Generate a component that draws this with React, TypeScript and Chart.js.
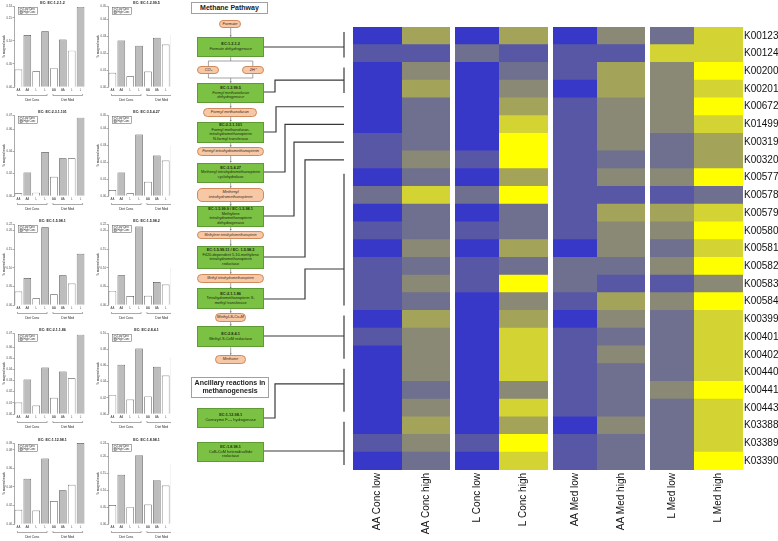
import React, { useEffect, useRef } from 'react';
import { Chart, registerables } from 'chart.js';
Chart.register(...registerables);

// ---------------- Heatmap data ----------------
const KO_ROWS = ['K00123','K00124','K00200','K00201','K00672','K01499','K00319','K00320','K00577','K00578','K00579','K00580','K00581','K00582','K00583','K00584','K00399','K00401','K00402','K00440','K00441','K00443','K03388','K03389','K03390'];
const HEAT_COLUMNS = ['AA Conc low','AA Conc high','L Conc low','L Conc high','AA Med low','AA Med high','L Med low','L Med high'];
// colour level per KO row (0 = lowest / blue ... 6 = highest / yellow)
const AA_CONC_LOW  = [0,1,0,0,0,0,1,1,0,2,0,1,0,1,1,1,0,1,0,0,0,0,0,1,0];
const AA_CONC_HIGH = [4,1,3,4,2,2,2,3,2,5,2,2,3,2,3,2,4,3,3,3,2,3,4,3,2];
const L_CONC_LOW   = [0,2,0,0,0,0,0,1,0,2,0,1,0,1,1,0,0,0,0,0,0,0,0,1,0];
const L_CONC_HIGH  = [4,1,2,3,4,5,6,6,4,6,2,2,4,2,6,3,4,5,5,5,3,5,4,6,5];
const AA_MED_LOW   = [0,1,1,0,1,1,1,1,1,1,1,1,0,2,2,1,0,1,1,1,1,1,0,1,1];
const AA_MED_HIGH  = [3,1,4,4,3,3,3,2,3,1,4,3,3,2,1,4,3,2,3,2,2,2,3,2,2];
const L_MED_LOW    = [2,5,3,3,3,3,2,2,3,1,4,3,2,3,1,3,2,2,2,2,3,2,2,2,2];
const L_MED_HIGH   = [5,5,6,5,6,5,4,4,6,2,5,6,5,6,3,6,5,5,5,5,6,5,5,5,6];
const HEAT_LEVELS = [AA_CONC_LOW, AA_CONC_HIGH, L_CONC_LOW, L_CONC_HIGH, AA_MED_LOW, AA_MED_HIGH, L_MED_LOW, L_MED_HIGH];
// enzyme -> KO row groups
const ENZYME_ROW_GROUPS = [[0,1],[2,3],[4,4],[5,5],[6,6],[7,7],[8,15],[16,18],[19,21],[22,24]];

// ---------------- Bar chart data ----------------
const BAR_LABELS = ['AA','AA','L','L','AA','AA','L','L'];
const DIET_GROUPS = ['Diet Conc','Diet Med'];
const LEGEND_LABELS = ['Low Conc','High Conc'];
const EC_TITLES = ['EC: EC:1.2.1.2','EC: EC:1.2.99.5','EC: EC:2.3.1.101','EC: EC:3.5.4.27','EC: EC:1.5.98.1','EC: EC:1.5.98.2','EC: EC:2.1.1.86','EC: EC:2.8.4.1','EC: EC:1.12.98.1','EC: EC:1.8.98.1'];
const EC_1_2_1_2   = [0.038,0.113,0.034,0.121,0.041,0.103,0.079,0.174];
const EC_1_2_99_5  = [0.0084,0.0276,0.0064,0.0244,0.0092,0.0292,0.0252,0.031];
const EC_2_3_1_101 = [0.0024,0.0212,0.003,0.0394,0.0173,0.0339,0.0339,0.0703];
const EC_3_5_4_27  = [0.0036,0.014,0.0016,0.0364,0.0084,0.024,0.021,0.03];
const EC_1_5_98_1  = [0.0364,0.0727,0.0182,0.209,0.029,0.08,0.058,0.138];
const EC_1_5_98_2  = [0.038,0.08,0.024,0.211,0.025,0.062,0.055,0.1];
const EC_2_1_1_86  = [0.0103,0.0309,0.0076,0.0418,0.0145,0.0382,0.0321,0.0712];
const EC_2_8_4_1   = [0.0233,0.0608,0.0179,0.0808,0.0217,0.0583,0.0475,0.07];
const EC_1_12_98_1 = [0.0153,0.0487,0.0145,0.0705,0.0247,0.0364,0.0422,0.0873];
const EC_1_8_98_1  = [0.056,0.146,0.05,0.204,0.058,0.13,0.114,0.18];
const EC_VALUES = [EC_1_2_1_2, EC_1_2_99_5, EC_2_3_1_101, EC_3_5_4_27, EC_1_5_98_1, EC_1_5_98_2, EC_2_1_1_86, EC_2_8_4_1, EC_1_12_98_1, EC_1_8_98_1];
const EC_Y_MAX  = [0.176,0.048,0.0727,0.048,0.218,0.218,0.0727,0.1,0.0873,0.24];
const EC_Y_STEP = [0.05,0.01,0.02,0.01,0.05,0.05,0.01,0.02,0.02,0.05];

// ---------------- styles / layout ----------------
const FONT = '"Liberation Sans", Arial, sans-serif';
const PALETTE = ['#3838c8','#5757a6','#6f6f8f','#898976','#a3a35a','#d3d333','#ffff00'];
const COL_EDGES = [[0,49],[49,97],[102,146],[146,195],[200,244],[244,292],[297,341],[341,390]];
const HEAT_LEFT = 264;
const LINK_FROM_Y = [47,92,132,172,216,257,299,336,418,451];
const LINK_BEND_X = [0,275,276,285,294,305,305,0,275,0];
const LINK_AT = [0.56,0.5,0.5,0.5,0.5,0.5,0.707,0.5,0.38,0.62];
const BRACKET_X = 344;
const ROW_TOPS = [0,109,218,327,437];

const connectorPlugin = {
  id: 'connectors',
  afterDraw(chart: any) {
    const { ctx, chartArea } = chart;
    const ys = chart.scales.y;
    const rh = (chartArea.bottom - chartArea.top) / KO_ROWS.length;
    const bx = BRACKET_X - HEAT_LEFT;
    ctx.save();
    ctx.strokeStyle = '#3a3a3a';
    ctx.lineWidth = 1.2;
    ENZYME_ROW_GROUPS.forEach(([r0, r1], i) => {
      const top = ys.getPixelForValue(r0) - rh / 2;
      const bot = ys.getPixelForValue(r1) + rh / 2;
      const fromY = LINK_FROM_Y[i];
      const arr = LINK_BEND_X[i] ? top + (bot - top) * LINK_AT[i] : fromY;
      ctx.beginPath();
      ctx.moveTo(0, fromY);
      if (LINK_BEND_X[i]) {
        const x = LINK_BEND_X[i] - HEAT_LEFT;
        ctx.lineTo(x, fromY);
        ctx.lineTo(x, arr);
      }
      ctx.lineTo(bx, arr);
      if (r1 > r0) {
        ctx.moveTo(bx, top + 5);
        ctx.lineTo(bx, bot - 5);
      }
      ctx.stroke();
    });
    ctx.restore();
  },
};

function Heatmap() {
  const ref = useRef<HTMLCanvasElement>(null);
  useEffect(() => {
    const datasets = HEAT_LEVELS.map((levels, c) => ({
      label: HEAT_COLUMNS[c],
      data: KO_ROWS.map(() => COL_EDGES[c]),
      backgroundColor: levels.map((l) => PALETTE[l]),
      borderWidth: 0,
      barPercentage: 1.05,
      categoryPercentage: 1,
      grouped: false,
    }));
    const chart = new Chart(ref.current!, {
      type: 'bar',
      data: { labels: KO_ROWS, datasets } as any,
      options: {
        indexAxis: 'y',
        animation: false,
        responsive: false,
        maintainAspectRatio: false,
        layout: { padding: { left: 89, top: 27, right: 0, bottom: 0 } },
        plugins: { legend: { display: false }, tooltip: { enabled: false }, title: { display: false } },
        scales: {
          y: {
            type: 'category',
            position: 'right',
            grid: { display: false, drawTicks: false },
            border: { display: false },
            ticks: { font: { size: 10, family: FONT }, color: '#111', padding: 1, autoSkip: false },
            afterFit: (s: any) => { s.width = 35; },
          },
          x: {
            type: 'linear',
            min: 0,
            max: 390,
            grid: { display: false, drawTicks: false },
            border: { display: false },
            ticks: {
              font: { size: 10, family: FONT },
              color: '#111',
              padding: 3,
              autoSkip: false,
              minRotation: 90,
              maxRotation: 90,
              callback: (_v: any, i: number) => HEAT_COLUMNS[i],
            },
            afterBuildTicks: (s: any) => { s.ticks = COL_EDGES.map(([a, b]) => ({ value: (a + b) / 2 })); },
            afterFit: (s: any) => { s.height = 71; },
          },
        },
      } as any,
      plugins: [connectorPlugin],
    });
    return () => chart.destroy();
  }, []);
  return <canvas ref={ref} width={514} height={541} style={{ position: 'absolute', left: HEAT_LEFT, top: 0, width: 514, height: 541, display: 'block' }} />;
}

const smallDeco = {
  id: 'smallDeco',
  afterDraw(chart: any, _a: any, opts: any) {
    const { ctx, chartArea: a } = chart;
    const xs = chart.scales.x;
    ctx.save();
    ctx.fillStyle = '#222';
    ctx.textAlign = 'center';
    ctx.textBaseline = 'middle';
    ctx.font = `bold 3.6px ${FONT}`;
    ctx.fillText(opts.title, (a.left + a.right) / 2 + 3, 3);
    // legend box
    ctx.strokeStyle = '#555';
    ctx.lineWidth = 0.5;
    const lx = a.left + 4.5, ly = a.top + 1.5;
    ctx.strokeRect(lx, ly, 19, 7);
    ctx.font = `2.6px ${FONT}`;
    ctx.textAlign = 'left';
    LEGEND_LABELS.forEach((t, i) => {
      const y = ly + 2.2 + i * 2.8;
      ctx.fillStyle = i === 0 ? '#fff' : '#bdbdbd';
      ctx.fillRect(lx + 1.5, y - 0.9, 2.4, 1.8);
      ctx.strokeRect(lx + 1.5, y - 0.9, 2.4, 1.8);
      ctx.fillStyle = '#222';
      ctx.fillText(t, lx + 5, y);
    });
    // diet brackets
    ctx.textAlign = 'center';
    ctx.font = `3.2px ${FONT}`;
    const by = a.bottom + 8.5;
    DIET_GROUPS.forEach((t, g) => {
      const x0 = xs.getPixelForValue(g * 4) - 1;
      const x1 = xs.getPixelForValue(g * 4 + 3) + 2;
      ctx.beginPath();
      ctx.moveTo(x0, by - 1.5);
      ctx.lineTo(x0, by);
      ctx.lineTo(x1, by);
      ctx.lineTo(x1, by - 1.5);
      ctx.stroke();
      ctx.fillText(t, (x0 + x1) / 2, by + 4.5);
    });
    ctx.restore();
  },
};

function BarPanel({ idx }: { idx: number }) {
  const ref = useRef<HTMLCanvasElement>(null);
  const col = idx % 2;
  const row = Math.floor(idx / 2);
  useEffect(() => {
    const chart = new Chart(ref.current!, {
      type: 'bar',
      data: {
        labels: BAR_LABELS,
        datasets: [{
          data: EC_VALUES[idx],
          backgroundColor: BAR_LABELS.map((_, i) => (i % 2 === 0 ? '#ffffff' : '#bdbdbd')),
          borderColor: '#4a4a4a',
          borderWidth: 0.7,
          barPercentage: 0.86,
          categoryPercentage: 1,
        }],
      },
      options: {
        animation: false,
        responsive: false,
        maintainAspectRatio: false,
        layout: { padding: { left: 2, right: 1, top: 6, bottom: 17 } },
        plugins: { legend: { display: false }, tooltip: { enabled: false }, title: { display: false }, smallDeco: { title: EC_TITLES[idx] } } as any,
        scales: {
          x: {
            grid: { display: false, drawTicks: false },
            border: { display: false },
            ticks: { font: { size: 2.8, family: FONT }, color: '#444', padding: 2, maxRotation: 0, autoSkip: false },
            afterFit: (s: any) => { s.height = 5; },
          },
          y: {
            min: 0,
            max: EC_Y_MAX[idx],
            grid: { display: true, drawOnChartArea: false, tickLength: 1.5, color: '#555', lineWidth: 0.5 },
            border: { display: true, color: '#555', width: 0.5 },
            ticks: { stepSize: EC_Y_STEP[idx], font: { size: 2.8, family: FONT }, color: '#444', padding: 0.5, callback: (v: any) => Number(v).toFixed(2) },
            title: { display: true, text: '% mapped reads', font: { size: 3, family: FONT }, color: '#333', padding: 0 },
            afterFit: (s: any) => { s.width = 12; },
          },
        },
      } as any,
      plugins: [smallDeco],
    });
    return () => chart.destroy();
  }, []);
  return <canvas ref={ref} width={86} height={109} style={{ position: 'absolute', left: col * 94, top: ROW_TOPS[row], width: 86, height: 109, display: 'block' }} />;
}

type PNode = { kind: 'green' | 'pill' | 'head'; x0?: number; x1?: number; y0: number; y1: number; lines: string[]; italic?: boolean; fs?: number };
const PATH_LEFT = 171;
const NODES: PNode[] = [
  { kind: 'head', x0: 190.7, x1: 268.3, y0: 1.7, y1: 14, lines: ['Methane Pathway'] },
  { kind: 'pill', x0: 219, x1: 241, y0: 20, y1: 28, lines: ['Formate'] },
  { kind: 'green', y0: 37, y1: 57, lines: ['EC:1.2.1.2', 'Formate dehydrogenase'], italic: true },
  { kind: 'pill', x0: 197.3, x1: 219.5, y0: 66, y1: 74, lines: ['CO₂'] },
  { kind: 'pill', x0: 241.7, x1: 264, y0: 66, y1: 74, lines: ['2H⁺'] },
  { kind: 'green', y0: 83, y1: 103, lines: ['EC:1.2.99.5', 'Formyl methanofuran', 'dehydrogenase'], italic: true },
  { kind: 'pill', x0: 202.7, x1: 257, y0: 108, y1: 117, lines: ['Formyl methanofuran'] },
  { kind: 'green', y0: 121.7, y1: 142.7, lines: ['EC:2.3.1.101', 'Formyl methanofuran-', 'tetrahydromethanopterin', 'N-formyl transferase'] },
  { kind: 'pill', y0: 147, y1: 156, lines: ['Formyl tetrahydromethanopterin'] },
  { kind: 'green', y0: 162.7, y1: 182.7, lines: ['EC:3.5.4.27', 'Methenyl tetrahydromethanopterin', 'cyclohydrolase'] },
  { kind: 'pill', y0: 188, y1: 201.7, lines: ['Methenyl', 'tetrahydromethanopterin'] },
  { kind: 'green', y0: 206, y1: 226.7, lines: ['EC:1.5.99.9 / EC:1.5.98.1', 'Methylene', 'tetrahydromethanopterin', 'dehydrogenase'] },
  { kind: 'pill', y0: 230.7, y1: 239.3, lines: ['Methylene tetrahydromethanopterin'], fs: 3.3 },
  { kind: 'green', y0: 246, y1: 268.7, lines: ['EC:1.5.99.11 / EC: 1.5.98.2', 'F420-dependent 5,10-methylene', 'tetrahydromethanopterin', 'reductase'] },
  { kind: 'pill', y0: 274, y1: 282.7, lines: ['Methyl tetrahydromethanopterin'], fs: 3.3 },
  { kind: 'green', y0: 288.3, y1: 308.7, lines: ['EC:2.1.1.86', 'Tetrahydromethanopterin S-', 'methyl transferase'] },
  { kind: 'pill', x0: 215, x1: 246, y0: 313, y1: 322, lines: ['Methyl-S-Co-M'] },
  { kind: 'green', y0: 326, y1: 347.3, lines: ['EC:2.8.4.1', 'Methyl-S-CoM reductase'] },
  { kind: 'pill', x0: 215, x1: 246, y0: 355, y1: 363.7, lines: ['Methane'] },
  { kind: 'head', x0: 191, x1: 269, y0: 377, y1: 397.7, lines: ['Ancillary reactions in', 'methanogenesis'] },
  { kind: 'green', y0: 408, y1: 428, lines: ['EC:1.12.98.1', 'Coenzyme F₄₂₀ hydrogenase'] },
  { kind: 'green', y0: 441.7, y1: 462, lines: ['EC:1.8.98.1', 'CoB-CoM heterodisulfide', 'reductase'] },
];
const ARROWS: [number, number][] = [[28, 37], [78, 83], [103, 108], [117, 121.7], [142.7, 147], [156, 162.7], [182.7, 188], [201.7, 206], [226.7, 230.7], [239.3, 246], [268.7, 274], [282.7, 288.3], [308.7, 313], [322, 326], [347.3, 355]];

function Pathway() {
  const cx = 230.7 - PATH_LEFT;
  return (
    <div style={{ position: 'absolute', left: PATH_LEFT, top: 0, width: HEAT_LEFT - PATH_LEFT, height: 541, background: '#fff', zIndex: 2 }}>
      <svg width={HEAT_LEFT - PATH_LEFT + 8} height={541} style={{ position: 'absolute', left: 0, top: 0 }}>
        <g stroke="#666" strokeWidth={0.6} fill="none">
          {ARROWS.map(([a, b], i) => <line key={i} x1={cx} y1={a} x2={cx} y2={b - 0.8} />)}
          <path d={`M${cx} 57 V61 M${208.4 - PATH_LEFT} 66 V61 H${252.8 - PATH_LEFT} V66 M${208.4 - PATH_LEFT} 74 V78 H${252.8 - PATH_LEFT} V74`} />
        </g>
        <g fill="#666">
          {ARROWS.map(([_a, b], i) => <path key={i} d={`M${cx - 1} ${b - 1.4} L${cx + 1} ${b - 1.4} L${cx} ${b} Z`} />)}
        </g>
      </svg>
      {NODES.map((n, i) => {
        const x0 = n.x0 ?? 197.3, x1 = n.x1 ?? 264;
        const base: React.CSSProperties = {
          position: 'absolute', left: x0 - PATH_LEFT, top: n.y0, width: x1 - x0, height: n.y1 - n.y0,
          boxSizing: 'border-box', display: 'flex', flexDirection: 'column', alignItems: 'center', justifyContent: 'center',
          textAlign: 'center', fontFamily: FONT, whiteSpace: 'nowrap', overflow: 'hidden',
        };
        if (n.kind === 'green') {
          Object.assign(base, { background: '#7bc143', border: '0.6px solid #5e9b35', color: '#1d2a12', fontSize: 3.9, lineHeight: '4.6px' });
        } else if (n.kind === 'pill') {
          Object.assign(base, { background: '#f6c8a6', border: '0.6px solid #cf8a5c', borderRadius: 5, color: '#3a2a20', fontSize: n.fs ?? 4, lineHeight: '4.8px', fontStyle: 'italic' });
        } else {
          Object.assign(base, { background: '#fff', border: '0.8px solid #a0a0a0', color: '#222', fontSize: 7, lineHeight: '8px', fontWeight: 'bold' });
        }
        return (
          <div key={i} style={base}>
            {n.lines.map((t, j) => (
              <div key={j} style={{ fontWeight: n.kind === 'green' && j === 0 ? 'bold' : undefined, fontStyle: n.kind === 'green' && j > 0 && n.italic ? 'italic' : undefined }}>{t}</div>
            ))}
          </div>
        );
      })}
    </div>
  );
}

export default function App() {
  return (
    <div style={{ position: 'fixed', left: 0, top: 0, width: 778, height: 541, background: '#fff', overflow: 'hidden' }}>
      {EC_TITLES.map((_, i) => <BarPanel key={i} idx={i} />)}
      <Pathway />
      <Heatmap />
    </div>
  );
}
